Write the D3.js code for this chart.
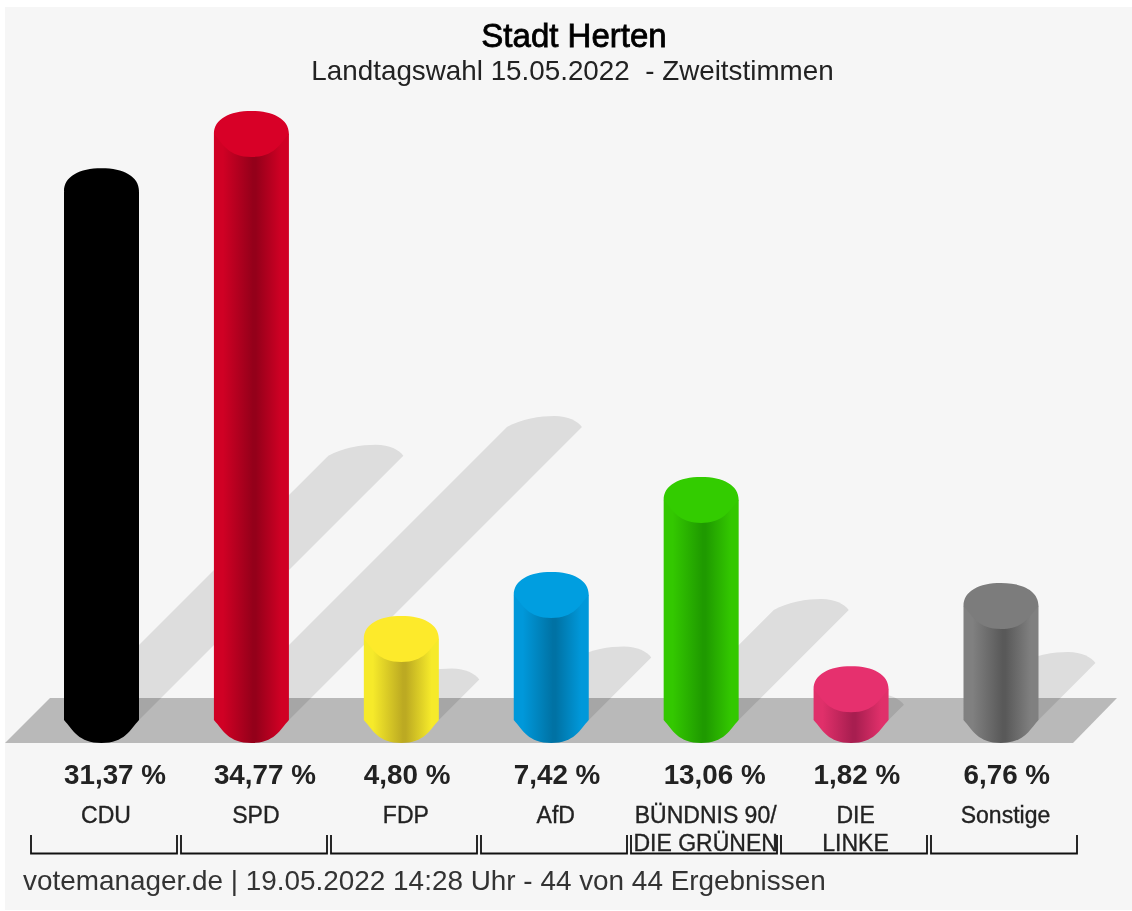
<!DOCTYPE html>
<html lang="de">
<head>
<meta charset="utf-8">
<title>Stadt Herten</title>
<script src="https://cdn.jsdelivr.net/npm/d3@7"></script>
<style>
html,body{margin:0;padding:0;background:#fff;overflow:hidden}
svg{display:block;filter:blur(0.7px)}
text{font-family:"Liberation Sans",Arial,sans-serif;white-space:pre}
</style>
</head>
<body>
<svg id="chart" width="1132" height="911"></svg>
<script>
const title = "Stadt Herten";
const subtitle = "Landtagswahl 15.05.2022  - Zweitstimmen";
const footer = "votemanager.de | 19.05.2022 14:28 Uhr - 44 von 44 Ergebnissen";
const parties = ["CDU","SPD","FDP","AfD","GRUENE","LINKE","Sonstige"];
const partyLines = [["CDU"],["SPD"],["FDP"],["AfD"],["BÜNDNIS 90/","DIE GRÜNEN"],["DIE","LINKE"],["Sonstige"]];
const values = [31.37,34.77,4.80,7.42,13.06,1.82,6.76];
const capColors  = ["#000000","#d80027","#fdea2b","#009ee0","#33cc00","#e6306e","#7c7c7c"];
const edgeColors = ["#000000","#d00024","#f6ea2a","#0098da","#33c800","#e0306a","#808080"];
const darkColors = ["#000000","#94001a","#bcaa22","#0072a4","#1f9a00","#a81e50","#595959"];

const svg = d3.select("#chart");
const rows = parties.map((p,i)=>({p,i,v:values[i],lines:partyLines[i],cap:capColors[i],edge:edgeColors[i],dark:darkColors[i]}));

const x = d3.scalePoint().domain(parties).range([101.5,1001]);
const y = d3.scaleLinear().domain([0,34.77]).range([720,134]);
const band = d3.scaleBand().domain(parties).range([30.5,1080.5]);
const halfW = 37.5, ry = 23;

svg.append("rect").attr("x",5).attr("y",7).attr("width",1127).attr("height",903).attr("fill","#f6f6f6");

// gradients
const defs = svg.append("defs");
rows.forEach(d=>{
  const g = defs.append("linearGradient").attr("id","g"+d.i).attr("x1",0).attr("x2",1).attr("y1",0).attr("y2",0);
  [[0,d.edge],[0.12,d.edge],[0.52,d.dark],[0.56,d.dark],[0.9,d.edge],[1,d.edge]].forEach(s=>
    g.append("stop").attr("offset",s[0]).attr("stop-color",s[1]));
});

// floor
const floorY = y(0), floorTop = 698, floorBottom = 743;
svg.append("path").attr("fill","#b9b9b9")
  .attr("d",d3.line()([[5,floorBottom],[50,floorTop],[1117,floorTop],[1073,floorBottom]])+"Z");

// shadows: 45 degree projection of each cylinder
function shadowPath(d){
  const c = x(d.p), h = floorY - y(d.v), sx = c + h/2, sy = floorY - h/2;
  const p = d3.path();
  p.moveTo(c-halfW,floorY);
  p.lineTo(sx-halfW,sy);
  p.bezierCurveTo(sx-halfW+14,sy-8,sx-4,sy-11,sx+10,sy-11);
  p.bezierCurveTo(sx+24,sy-11,sx+33,sy-6,sx+halfW,sy);
  p.lineTo(c+halfW,floorY);
  p.closePath();
  return p.toString();
}
svg.append("g").selectAll("path").data(rows).join("path")
  .attr("d",shadowPath).attr("fill","rgba(0,0,0,0.1)");

// cylinder bodies
function bodyPath(d){
  const c = x(d.p), t = y(d.v), b = floorY;
  const p = d3.path();
  p.moveTo(c-halfW,t);
  p.lineTo(c-halfW,b);
  p.bezierCurveTo(c-halfW+9,b+10,c-23,b+ry,c,b+ry);
  p.bezierCurveTo(c+23,b+ry,c+halfW-9,b+10,c+halfW,b);
  p.lineTo(c+halfW,t);
  p.closePath();
  return p.toString();
}
function capPath(d){
  const c = x(d.p), t = y(d.v);
  const p = d3.path();
  p.moveTo(c-halfW,t);
  p.bezierCurveTo(c-halfW,t-15,c-22,t-ry,c,t-ry);
  p.bezierCurveTo(c+22,t-ry,c+halfW,t-15,c+halfW,t);
  p.bezierCurveTo(c+halfW-9,t+10,c+23,t+ry,c,t+ry);
  p.bezierCurveTo(c-23,t+ry,c-halfW+9,t+10,c-halfW,t);
  p.closePath();
  return p.toString();
}
const bars = svg.append("g").selectAll("g").data(rows).join("g");
bars.append("path").attr("d",bodyPath).attr("fill",d=>`url(#g${d.i})`);
bars.append("path").attr("d",capPath).attr("fill",d=>d.cap);

// titles
svg.append("text").attr("x",574).attr("y",47).attr("text-anchor","middle")
  .attr("font-size",33).attr("fill","#000").attr("stroke","#000").attr("stroke-width",0.8).text(title);
svg.append("text").attr("x",572.5).attr("y",80).attr("text-anchor","middle")
  .attr("font-size",27.8).attr("fill","#222").text(subtitle);

// value labels
const fmt = v => v.toFixed(2).replace(".",",")+" %";
svg.append("g").selectAll("text").data(rows).join("text")
  .attr("x",d=>x(d.p)-halfW).attr("y",784)
  .attr("font-size",27.8).attr("font-weight","bold").attr("fill","#222")
  .text(d=>fmt(d.v));

// party labels
const names = svg.append("g").selectAll("text").data(rows).join("text")
  .attr("text-anchor","middle").attr("font-size",23).attr("fill","#222")
  .attr("stroke","#222").attr("stroke-width",0.35);
names.selectAll("tspan").data(d=>d.lines.map(l=>({l,cx:x(d.p)+4.5}))).join("tspan")
  .attr("x",t=>t.cx).attr("y",(t,j)=>823+j*27.5).text(t=>t.l);

// brackets
svg.append("g").selectAll("path").data(rows).join("path")
  .attr("fill","none").attr("stroke","#111").attr("stroke-width",1.8)
  .attr("d",d=>{
    const a = band(d.p)+0.5, b = a+146;
    return d3.line()([[a,835],[a,853.5],[b,853.5],[b,835]]);
  });

// footer
svg.append("text").attr("x",23).attr("y",890).attr("font-size",27.9).attr("fill","#333").text(footer);
</script>
</body>
</html>
